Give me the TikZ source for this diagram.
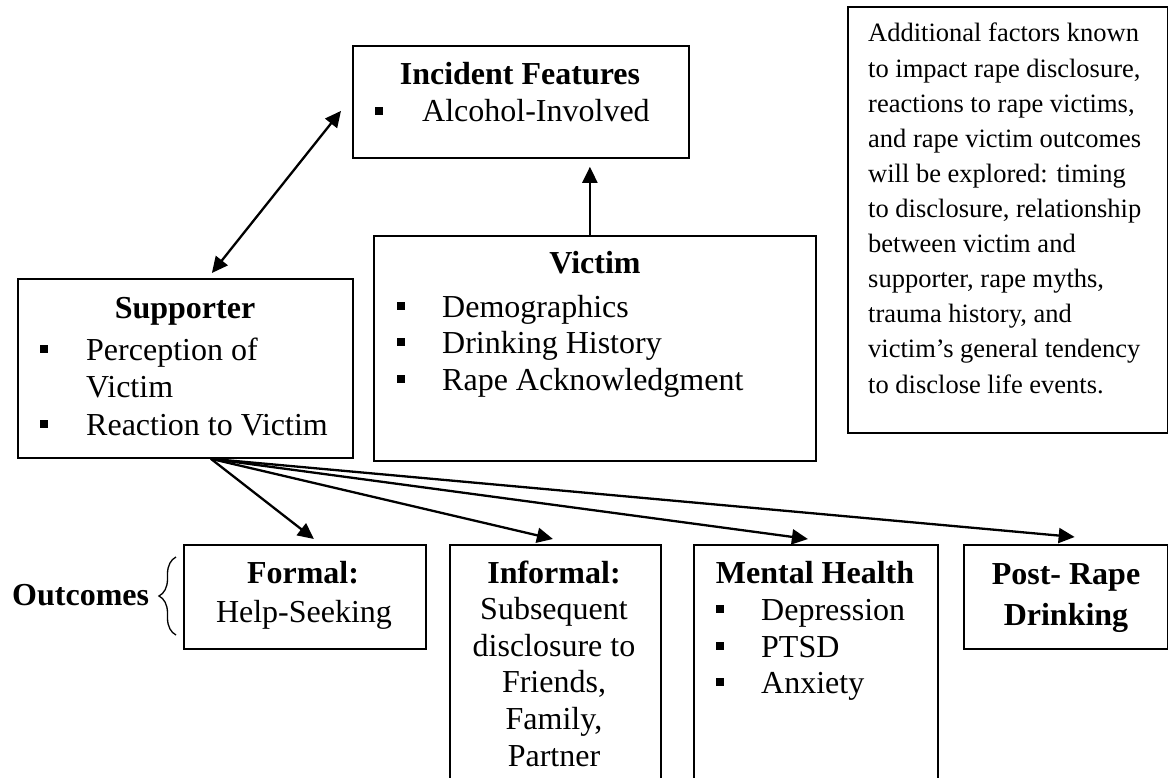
\documentclass[tikz,border=0pt]{standalone}
\usepackage{fontspec}
\setmainfont{Liberation Serif}
\usetikzlibrary{arrows.meta,decorations.pathreplacing}
\newcommand{\sqbul}{\rule[7pt]{8pt}{8pt}}
\begin{document}
\begin{tikzpicture}[x=1pt,y=-1pt,
  box/.style={draw, line width=1.8pt, inner sep=0pt, anchor=north west},
  tl/.style={inner sep=0pt, anchor=base west, font=\fontsize{32}{36}\selectfont},
  tc/.style={inner sep=0pt, anchor=base, font=\fontsize{32}{36}\selectfont},
  tb/.style={inner sep=0pt, anchor=base, font=\fontsize{32}{36}\selectfont\bfseries},
  ta/.style={inner sep=0pt, anchor=base west, font=\fontsize{26.5}{35}\selectfont},
  arr/.style={line width=2.3pt, -{Triangle[length=16pt,width=15pt]}},
  darr/.style={line width=2.3pt, {Triangle[length=16pt,width=15pt]}-{Triangle[length=16pt,width=15pt]}}]
\clip (0,0) rectangle (1168,778);
\fill[white] (0,0) rectangle (1168,778);

% boxes
\node[box, minimum width=336pt, minimum height=112pt] (inc) at (352,45) {};
\node[box, minimum width=442pt, minimum height=225pt] (vic) at (373,235) {};
\node[box, minimum width=335pt, minimum height=179pt] (sup) at (17,278) {};
\node[box, minimum width=319.5pt, minimum height=426pt] (add) at (847,6) {};
\node[box, minimum width=242pt, minimum height=104pt] (formal) at (183,544) {};
\node[box, minimum width=211pt, minimum height=256pt] (informal) at (449,544) {};
\node[box, minimum width=244pt, minimum height=256pt] (mental) at (693,544) {};
\node[box, minimum width=203.5pt, minimum height=104pt] (post) at (963,544) {};

% Incident Features
\node[tb] (inc-t) at (520,85) {Incident Features};
\node[tl] (inc-b1) at (375,122) {\sqbul};
\node[tl] (inc-1) at (422,122) {Alcohol-Involved};

% Victim
\node[tb] (vic-t) at (595,274) {Victim};
\node[tl] (vic-b1) at (397,317) {\sqbul};
\node[tl] (vic-1) at (442,317) {Demographics};
\node[tl] (vic-b2) at (397,353) {\sqbul};
\node[tl] (vic-2) at (442,353) {Drinking History};
\node[tl] (vic-b3) at (397,390) {\sqbul};
\node[tl] (vic-3) at (442,390) {Rape Acknowledgment};

% Supporter
\node[tb] (sup-t) at (185,318) {Supporter};
\node[tl] (sup-b1) at (40,360) {\sqbul};
\node[tl] (sup-1) at (86,360) {Perception of};
\node[tl] (sup-2) at (86,397) {Victim};
\node[tl] (sup-b3) at (40,435) {\sqbul};
\node[tl] (sup-3) at (86,435) {Reaction to Victim};

% Additional factors
\node[ta] (add-1) at (868,42) {Additional factors known};
\node[ta] (add-2) at (868,77.1) {to impact rape disclosure,};
\node[ta] (add-3) at (868,112.2) {reactions to rape victims,};
\node[ta] (add-4) at (868,147.3) {and rape victim outcomes};
\node[ta] (add-5) at (868,182.4) {will be explored: timing};
\node[ta] (add-6) at (868,217.5) {to disclosure, relationship};
\node[ta] (add-7) at (868,252.6) {between victim and};
\node[ta] (add-8) at (868,287.7) {supporter, rape myths,};
\node[ta] (add-9) at (868,322.8) {trauma history, and};
\node[ta] (add-10) at (868,357.9) {victim’s general tendency};
\node[ta] (add-11) at (868,393) {to disclose life events.};

% Outcomes
\node[inner sep=0pt, anchor=base west, font=\fontsize{32}{36}\selectfont\bfseries] (out) at (12,605) {Outcomes};
\draw[line width=1.3pt, decorate, decoration={brace, amplitude=17pt}] (176,635) -- (176,557);

% Formal
\node[tb] (formal-t) at (303,583) {Formal:};
\node[tc] (formal-1) at (304,622) {Help-Seeking};

% Informal
\node[tb] (inf-t) at (554,583) {Informal:};
\node[tc] (inf-1) at (554,619.6) {Subsequent};
\node[tc] (inf-2) at (554,656.2) {disclosure to};
\node[tc] (inf-3) at (554,692.8) {Friends,};
\node[tc] (inf-4) at (554,729.4) {Family,};
\node[tc] (inf-5) at (554,766) {Partner};

% Mental Health
\node[tb] (men-t) at (815,583) {Mental Health};
\node[tl] (men-b1) at (716,620) {\sqbul};
\node[tl] (men-1) at (761,620) {Depression};
\node[tl] (men-b2) at (716,657) {\sqbul};
\node[tl] (men-2) at (761,657) {PTSD};
\node[tl] (men-b3) at (716,693) {\sqbul};
\node[tl] (men-3) at (761,693) {Anxiety};

% Post-Rape Drinking
\node[tb] (post-t) at (1066,584) {Post- Rape};
\node[tb] (post-1) at (1066,625) {Drinking};

% connectors
\coordinate (dA) at ([xshift=-11pt,yshift=-9pt]inc.west);
\coordinate (dB) at ([xshift=26.5pt,yshift=5pt]sup.north);
\draw[darr] (dA) -- (dB);

\coordinate (vt) at ([xshift=-5pt]vic.north);
\draw[arr, shorten >=8pt] (vt) -- (vt |- inc.south);

\coordinate (src) at ([xshift=25.5pt]sup.south);
\coordinate (tF) at ([xshift=9pt,yshift=5pt]formal.north);
\coordinate (tI) at ([xshift=-2.5pt,yshift=5pt]informal.north);
\coordinate (tM) at ([xshift=-8pt,yshift=5pt]mental.north);
\coordinate (tP) at ([xshift=9pt,yshift=7pt]post.north);
\draw[arr] (src) -- (tF);
\draw[arr] (src) -- (tI);
\draw[arr] (src) -- (tM);
\draw[arr] (src) -- (tP);
\end{tikzpicture}
\end{document}
